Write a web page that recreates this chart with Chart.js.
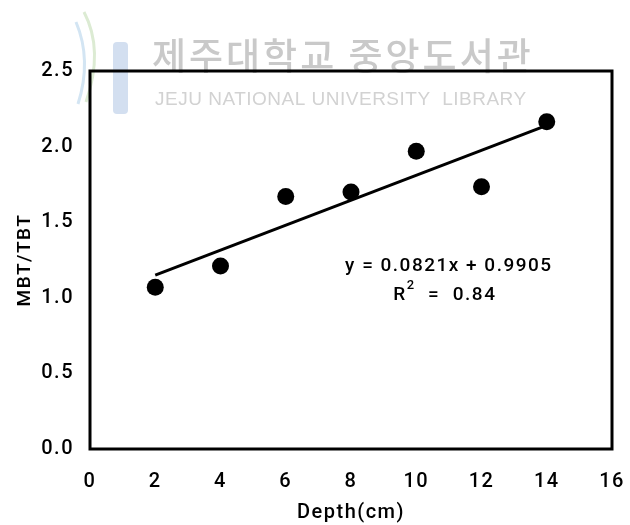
<!DOCTYPE html>
<html>
<head>
<meta charset="utf-8">
<script src="https://cdn.jsdelivr.net/npm/chart.js@4/dist/chart.umd.min.js"></script>
<style>
html, body { margin: 0; padding: 0; background: #fff; }
</style>
</head>
<body>
<canvas id="chart" width="630" height="525"></canvas>
<script>
// MBT/TBT ratio against depth
const depth = [2, 4, 6, 8, 10, 12, 14];
const ratio = [1.07, 1.21, 1.67, 1.70, 1.97, 1.735, 2.165];

// ends of the fitted line as drawn
const fitX = [2, 14];
const fitY = [1.15, 2.14];

const xTicks = [0, 2, 4, 6, 8, 10, 12, 14, 16];
const yTicks = [0, 0.5, 1.0, 1.5, 2.0, 2.5];

const equation = 'y = 0.0821x + 0.9905';
const rSquared = '0.84';

const mainFont = 'Roboto, "Liberation Sans", sans-serif';
const latin = '"Liberation Sans", Arial, sans-serif';

const spacing = {
    id: 'spacing',
    beforeUpdate(chart) { chart.ctx.letterSpacing = '1.5px'; },
    beforeDraw(chart) { chart.ctx.letterSpacing = '1.5px'; }
};

// scanned library stamp behind the plot
const watermark = {
    id: 'watermark',
    beforeDraw(chart) {
        const ctx = chart.ctx;
        ctx.save();
        ctx.fillStyle = '#d3dff0';
        ctx.beginPath();
        ctx.roundRect(113, 42, 15, 72, 4);
        ctx.fill();
        ctx.lineWidth = 3;
        ctx.strokeStyle = '#dcebd3';
        ctx.beginPath();
        ctx.moveTo(84, 12);
        ctx.quadraticCurveTo(104, 50, 86, 102);
        ctx.stroke();
        ctx.strokeStyle = '#d3e5f3';
        ctx.beginPath();
        ctx.moveTo(76, 22);
        ctx.quadraticCurveTo(92, 60, 78, 104);
        ctx.stroke();

        ctx.fillStyle = '#c9c9c9';
        ctx.textBaseline = 'alphabetic';
        ctx.letterSpacing = '3px';
        ctx.font = '500 37px "Noto Sans CJK KR"';
        ctx.fillText('제주대학교 중앙도서관', 152, 70);
        ctx.fillStyle = '#d2d2d2';
        ctx.letterSpacing = '0.5px';
        ctx.font = '19px ' + latin;
        ctx.fillText('JEJU NATIONAL UNIVERSITY  LIBRARY', 155, 105);
        ctx.restore();
    }
};

const frame = {
    id: 'frame',
    beforeDatasetsDraw(chart) {
        const a = chart.chartArea;
        const ctx = chart.ctx;
        ctx.save();
        ctx.strokeStyle = '#000';
        ctx.lineWidth = 3;
        ctx.strokeRect(a.left, a.top, a.right - a.left, a.bottom - a.top);
        ctx.restore();
    }
};

const fitLabel = {
    id: 'fitLabel',
    afterDatasetsDraw(chart) {
        const ctx = chart.ctx;
        const cx = chart.scales.x.getPixelForValue(11.0);
        const y1 = chart.scales.y.getPixelForValue(1.21);
        const y2 = chart.scales.y.getPixelForValue(1.02);
        const big = '500 19px ' + mainFont;
        const small = '500 13px ' + mainFont;
        ctx.save();
        ctx.fillStyle = '#000';
        ctx.letterSpacing = '1.5px';
        ctx.font = big;
        ctx.textBaseline = 'middle';
        ctx.textAlign = 'center';
        ctx.fillText(equation, cx, y1);

        const rest = '  =  ' + rSquared;
        const wR = ctx.measureText('R').width;
        ctx.font = small;
        const w2 = ctx.measureText('2').width;
        ctx.font = big;
        const wRest = ctx.measureText(rest).width;
        let x = cx - (wR + w2 + wRest) / 2 - 4;
        ctx.textAlign = 'left';
        ctx.fillText('R', x, y2);
        x += wR;
        ctx.font = small;
        ctx.fillText('2', x, y2 - 9);
        x += w2;
        ctx.font = big;
        ctx.fillText(rest, x, y2);
        ctx.restore();
    }
};

const tickFont = { family: mainFont, size: 20, weight: 500 };

const chart = new Chart(document.getElementById('chart'), {
    type: 'scatter',
    data: {
        datasets: [{
            label: 'MBT/TBT',
            data: depth.map((d, i) => ({ x: d, y: ratio[i] })),
            backgroundColor: '#000',
            borderWidth: 0,
            pointRadius: 8.5,
            pointHoverRadius: 8.5,
            order: 0
        }, {
            type: 'line',
            label: 'fit',
            data: fitX.map((d, i) => ({ x: d, y: fitY[i] })),
            borderColor: '#000',
            borderWidth: 3,
            pointRadius: 0,
            fill: false,
            order: 1
        }]
    },
    options: {
        responsive: false,
        animation: false,
        devicePixelRatio: 1,
        layout: { padding: { top: 71, right: 0, left: 0, bottom: 0 } },
        plugins: {
            legend: { display: false },
            tooltip: { enabled: false }
        },
        scales: {
            x: {
                type: 'linear',
                min: 0,
                max: 16,
                afterBuildTicks: s => { s.ticks = xTicks.map(v => ({ value: v })); },
                ticks: { color: '#000', font: tickFont, padding: 21 },
                grid: { display: false, drawTicks: false },
                border: { display: false },
                title: {
                    display: true,
                    text: 'Depth(cm)',
                    color: '#000',
                    font: tickFont,
                    padding: { top: 4, bottom: 0 }
                },
                afterFit: s => {
                    s.height = 76;
                    s.paddingRight = 18;
                    s.paddingLeft = 0;
                }
            },
            y: {
                min: 0,
                max: 2.5,
                afterBuildTicks: s => { s.ticks = yTicks.map(v => ({ value: v })); },
                ticks: {
                    color: '#000',
                    font: tickFont,
                    padding: 16,
                    callback: v => v.toFixed(1)
                },
                grid: { display: false, drawTicks: false },
                border: { display: false },
                title: {
                    display: true,
                    text: 'MBT/TBT',
                    color: '#000',
                    font: { family: mainFont, size: 19, weight: 500 },
                    padding: { top: 14, bottom: 0 }
                },
                afterFit: s => { s.width = 90; }
            }
        }
    },
    plugins: [spacing, watermark, frame, fitLabel]
});
</script>
</body>
</html>
